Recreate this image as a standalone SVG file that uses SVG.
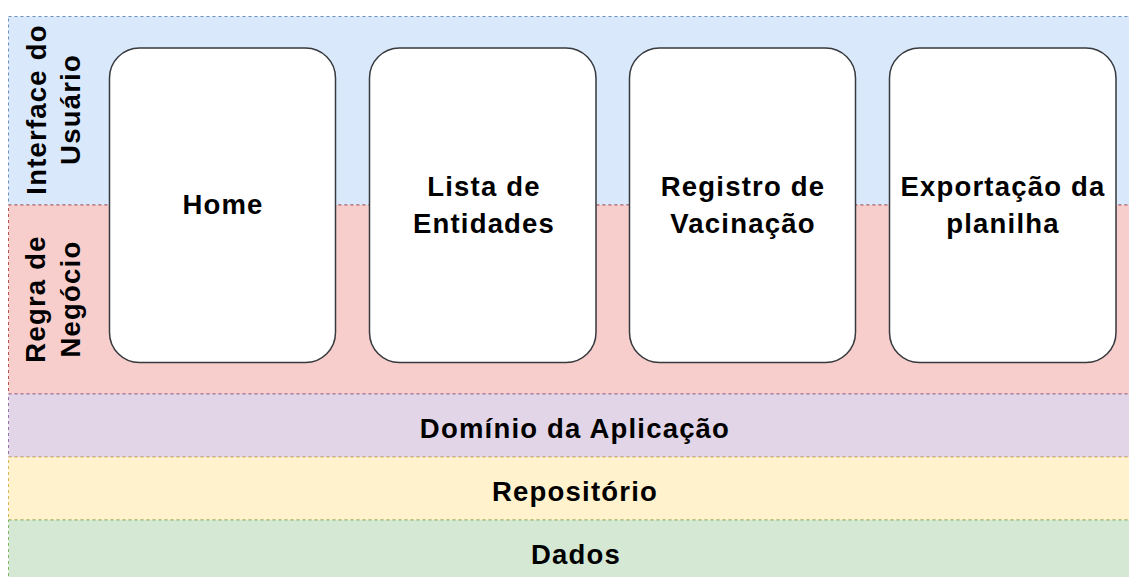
<svg xmlns="http://www.w3.org/2000/svg" width="1129" height="577" viewBox="0 0 1129 577">
<style>
.band{stroke-dasharray:3 3;stroke-width:1}
.box{fill:#ffffff;stroke:#36393d;stroke-width:1.5}
.t{font-family:"Liberation Sans",Arial,sans-serif;font-weight:bold;font-size:27.5px;letter-spacing:1.2px;fill:#000;text-anchor:middle}
</style>
<rect width="1129" height="577" fill="#ffffff"/>
<g id="layers">
<g id="band-ui"><rect class="band" x="8.5" y="16.5" width="1140" height="188.5" fill="#dae8fc" stroke="#6c8ebf"/></g>
<g id="band-regra"><rect class="band" x="8.5" y="205" width="1140" height="189" fill="#f8cecc" stroke="#b85450"/></g>
<g id="band-dominio"><rect class="band" x="8.5" y="394" width="1140" height="63" fill="#e1d5e7" stroke="#9673a6"/>
<text class="t" x="575" y="438">Domínio da Aplicação</text></g>
<g id="band-repo"><rect class="band" x="8.5" y="457" width="1140" height="63" fill="#fff2cc" stroke="#d6b656"/>
<text class="t" x="575" y="501">Repositório</text></g>
<g id="band-dados"><rect class="band" x="8.5" y="520" width="1140" height="70" fill="#d5e8d4" stroke="#82b366"/>
<text class="t" x="576" y="564">Dados</text></g>
</g>
<g id="label-ui">
<text class="t" transform="translate(46,109.5) rotate(-90)">Interface do</text>
<text class="t" transform="translate(79.5,109.5) rotate(-90)">Usuário</text>
</g>
<g id="label-regra">
<text class="t" transform="translate(45,299) rotate(-90)">Regra de</text>
<text class="t" transform="translate(79.5,299) rotate(-90)">Negócio</text>
</g>
<g id="connectors"></g>
<g id="node-home"><rect class="box" x="109.5" y="48" width="226" height="314.5" rx="30" ry="30"/>
<text class="t" x="223" y="213.5">Home</text></g>
<g id="node-lista"><rect class="box" x="369.5" y="48" width="226.5" height="314.5" rx="30" ry="30"/>
<text class="t" x="484" y="196">Lista de</text><text class="t" x="484" y="232.5">Entidades</text></g>
<g id="node-registro"><rect class="box" x="629.5" y="48" width="226" height="314.5" rx="30" ry="30"/>
<text class="t" x="743" y="196">Registro de</text><text class="t" x="743" y="232.5">Vacinação</text></g>
<g id="node-exportacao"><rect class="box" x="889.5" y="48" width="226.5" height="314.5" rx="30" ry="30"/>
<text class="t" x="1003" y="196">Exportação da</text><text class="t" x="1003" y="232.5">planilha</text></g>
</svg>
